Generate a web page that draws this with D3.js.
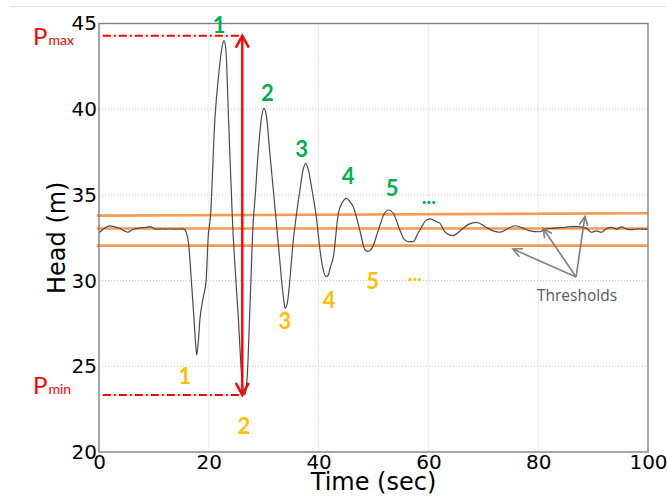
<!DOCTYPE html>
<html>
<head>
<meta charset="utf-8">
<script src="https://cdn.jsdelivr.net/npm/d3@7/dist/d3.min.js"></script>
<style>
  html, body { margin: 0; padding: 0; background: #fff; }
  svg { display: block; }
</style>
</head>
<body>
<svg id="chart" width="667" height="498"></svg>
<script>
// ---- data ----
const time = [0, 0.2, 1.0, 2.0, 3.0, 3.8, 4.6, 5.3, 6.0, 6.6, 7.5, 8.5, 9.3, 10.0, 10.5, 11.3, 12.0, 13.0, 13.9, 14.8, 15.5, 15.9, 16.3, 16.9, 17.3, 17.6, 17.8, 18.05, 18.4, 18.9, 19.3, 19.5, 19.9, 20.3, 21.1, 21.8, 22.4, 22.77, 23.1, 23.6, 24.3, 25.4, 26.0, 26.5, 26.8, 27.0, 27.5, 28.1, 28.4, 29.0, 29.6, 30.05, 30.5, 31.1, 31.75, 32.7, 33.6, 33.9, 34.3, 35.4, 36.6, 37.2, 37.65, 38.1, 38.7, 39.65, 40.25, 40.8, 41.35, 41.8, 42.08, 42.7, 43.6, 44.4, 45.1, 45.7, 46.3, 47.5, 48.45, 49.05, 49.7, 50.9, 51.8, 52.7, 53.6, 54.8, 55.6, 56.35, 57.25, 58.0, 58.8, 59.5, 60.3, 61.5, 62.1, 63.0, 64.5, 65.75, 67.3, 68.8, 70.3, 71.8, 73.0, 74.3, 75.8, 77.0, 78.5, 80.3, 81.2, 82.5, 83.5, 84.6, 85.8, 87.3, 88.8, 89.7, 90.6, 91.5, 92.5, 93.4, 94.3, 95.2, 96.1, 97.3, 98.2, 99.1, 100];
const head = [32.80, 32.85, 33.05, 33.19, 33.12, 33.05, 32.90, 32.82, 32.95, 33.02, 33.08, 33.10, 33.15, 33.05, 33.00, 33.02, 33.00, 33.02, 33.00, 33.02, 33.00, 32.80, 32.2, 29.64, 27.8, 26.3, 25.66, 26.3, 27.8, 28.87, 29.5, 29.94, 32.6, 33.73, 39.37, 42.0, 43.6, 44.0, 43.5, 39.4, 33.6, 27.7, 24.4, 23.33, 23.7, 24.4, 28.5, 33.5, 34.7, 37.5, 39.5, 40.05, 39.6, 37.5, 35.3, 32.0, 29.0, 28.38, 28.7, 32.37, 35.3, 36.5, 36.84, 36.5, 35.48, 33.54, 31.8, 30.7, 30.23, 30.35, 30.72, 31.4, 33.93, 34.6, 34.8, 34.6, 34.31, 32.95, 31.8, 31.7, 31.88, 32.95, 33.8, 34.12, 33.93, 32.95, 32.4, 32.27, 32.27, 32.7, 33.15, 33.5, 33.6, 33.44, 33.34, 32.85, 32.62, 32.9, 33.28, 33.4, 33.15, 32.9, 32.82, 33.0, 33.2, 33.09, 32.9, 32.85, 33.0, 33.05, 33.08, 33.09, 33.15, 33.15, 33.05, 32.82, 32.9, 32.82, 33.05, 33.1, 33.0, 33.13, 33.0, 32.97, 33.02, 33.0, 33.0];

const thresholdStart = [33.79, 33.04, 32.04];
const thresholdEnd   = [33.93, 33.04, 32.04];

const xTicks = [0, 20, 40, 60, 80, 100];
const yTicks = [20, 25, 30, 35, 40, 45];

const pMax = 44.29, pMin = 23.33, tExtreme = 26.1, tDashStart = 0.7;

const peakLabels = ["1", "2", "3", "4", "5"];
const peakLabelT = [21.86, 30.66, 36.92, 45.4, 53.4];
const peakLabelV = [44.91, 40.95, 37.68, 36.10, 35.40];
const troughLabels = ["1", "2", "3", "4", "5"];
const troughLabelT = [15.66, 26.41, 33.88, 41.9, 49.85];
const troughLabelV = [24.43, 21.52, 27.64, 28.87, 30.0];
const ellipsisPeak = {t: 60.1, v: 34.60};
const ellipsisTrough = {t: 57.55, v: 30.12};

const thresholdText = "Thresholds";
const thresholdTextPos = {t: 87.07, v: 28.81};
const thresholdArrowFrom = {t: 86.9, v: 30.21};
const thresholdArrowTo = [{t: 75.4, v: 31.84}, {t: 80.9, v: 33.04}, {t: 88.5, v: 33.74}];

// ---- layout ----
const svg = d3.select("#chart");
const x = d3.scaleLinear().domain([0, 100]).range([99, 648]);
const y = d3.scaleLinear().domain([20, 45]).range([452, 23.5]);

// faint top rule
svg.append("line").attr("x1", 10).attr("x2", 667).attr("y1", 6.5).attr("y2", 6.5)
  .attr("stroke", "#e6e6e6").attr("stroke-width", 1.2);

// grid
const grid = svg.append("g");
grid.selectAll(".gx").data(xTicks.slice(1, -1)).enter().append("line")
  .attr("x1", d => x(d)).attr("x2", d => x(d)).attr("y1", y(45)).attr("y2", y(20))
  .attr("stroke", "#c8c8c8").attr("stroke-width", 1).attr("stroke-dasharray", "1,2");
grid.selectAll(".gy").data(yTicks.slice(1, -1)).enter().append("line")
  .attr("x1", x(0)).attr("x2", x(100)).attr("y1", d => y(d)).attr("y2", d => y(d))
  .attr("stroke", "#c8c8c8").attr("stroke-width", 1).attr("stroke-dasharray", "1,2");

// thresholds
svg.append("g").selectAll("line").data(thresholdStart).enter().append("line")
  .attr("x1", x(-0.4)).attr("x2", x(100))
  .attr("y1", d => y(d)).attr("y2", (d, i) => y(thresholdEnd[i]))
  .attr("stroke", "#f79a52").attr("stroke-width", 2.6);

// series
const pts = time.map((t, i) => [t, head[i]]);
svg.append("path").datum(pts)
  .attr("d", d3.line().x(d => x(d[0])).y(d => y(d[1])).curve(d3.curveMonotoneX))
  .attr("fill", "none").attr("stroke", "#4a4a4a").attr("stroke-width", 1.2);

// frame
svg.append("rect").attr("x", x(0)).attr("y", y(45))
  .attr("width", x(100) - x(0)).attr("height", y(20) - y(45))
  .attr("fill", "none").attr("stroke", "#808080").attr("stroke-width", 1.4);

// axes
const xAxis = svg.append("g").attr("transform", `translate(0,${y(20)})`)
  .call(d3.axisBottom(x).tickValues(xTicks).tickSize(0).tickPadding(3).tickFormat(d3.format("d")));
const yAxis = svg.append("g").attr("transform", `translate(${x(0)},0)`)
  .call(d3.axisLeft(y).tickValues(yTicks).tickSize(0).tickPadding(2).tickFormat(d3.format("d")));
[xAxis, yAxis].forEach(a => {
  a.select(".domain").remove();
  a.selectAll("text").attr("font-family", "DejaVu Sans").attr("font-size", 20).attr("fill", "#000");
});

// axis titles
svg.append("text").attr("x", (x(0) + x(100)) / 2).attr("y", 490)
  .attr("text-anchor", "middle").attr("font-family", "DejaVu Sans").attr("font-size", 24)
  .attr("fill", "#000").text("Time (sec)");
svg.append("text").attr("transform", `translate(65,${(y(20) + y(45)) / 2}) rotate(-90)`)
  .attr("text-anchor", "middle").attr("font-family", "DejaVu Sans").attr("font-size", 24)
  .attr("fill", "#000").text("Head (m)");

// red Pmax / Pmin
const red = "#ff0000";
[pMax, pMin].forEach(v => {
  svg.append("line").attr("x1", x(tDashStart)).attr("x2", x(tExtreme))
    .attr("y1", y(v)).attr("y2", y(v))
    .attr("stroke", red).attr("stroke-width", 2).attr("stroke-dasharray", "8,3,2,3");
});
svg.append("line").attr("x1", x(tExtreme)).attr("x2", x(tExtreme))
  .attr("y1", y(pMax) + 1).attr("y2", y(pMin) - 1)
  .attr("stroke", red).attr("stroke-width", 2.4);
const ax = x(tExtreme);
svg.append("path").attr("d", `M${ax - 6.5},${y(pMax) + 12} L${ax},${y(pMax)} L${ax + 6.5},${y(pMax) + 12}`)
  .attr("fill", "none").attr("stroke", red).attr("stroke-width", 2.4);
svg.append("path").attr("d", `M${ax - 6.5},${y(pMin) - 12} L${ax},${y(pMin)} L${ax + 6.5},${y(pMin) - 12}`)
  .attr("fill", "none").attr("stroke", red).attr("stroke-width", 2.4);

const pLab = (yy, sub) => {
  const t = svg.append("text").attr("x", 33).attr("y", yy)
    .attr("font-family", "Lato, 'Open Sans', sans-serif").attr("fill", red);
  t.append("tspan").attr("font-size", 24).text("P");
  t.append("tspan").attr("font-size", 14).attr("dx", 1).text(sub);
};
pLab(45, "max");
pLab(394, "min");

// peak / trough numbers
const numFont = "Lato, 'Open Sans', sans-serif";
svg.append("g").selectAll("text").data(peakLabels).enter().append("text")
  .attr("x", (d, i) => x(peakLabelT[i])).attr("y", (d, i) => y(peakLabelV[i]))
  .attr("dy", "0.36em").attr("text-anchor", "middle")
  .attr("font-family", numFont).attr("font-weight", "bold").attr("font-size", 22)
  .attr("fill", "#00b050").text(d => d);
svg.append("g").selectAll("text").data(troughLabels).enter().append("text")
  .attr("x", (d, i) => x(troughLabelT[i])).attr("y", (d, i) => y(troughLabelV[i]))
  .attr("dy", "0.36em").attr("text-anchor", "middle")
  .attr("font-family", numFont).attr("font-weight", "bold").attr("font-size", 22)
  .attr("fill", "#ffc000").text(d => d);
svg.append("text").attr("x", x(ellipsisPeak.t)).attr("y", y(ellipsisPeak.v) + 2)
  .attr("text-anchor", "middle").attr("font-family", numFont).attr("font-weight", "bold")
  .attr("font-size", 20).attr("fill", "#00b050").text("...");
svg.append("text").attr("x", x(ellipsisTrough.t)).attr("y", y(ellipsisTrough.v) + 2)
  .attr("text-anchor", "middle").attr("font-family", numFont).attr("font-weight", "bold")
  .attr("font-size", 20).attr("fill", "#ffc000").text("...");

// Thresholds annotation
const gray = "#7f7f7f";
const fx = x(thresholdArrowFrom.t), fy = y(thresholdArrowFrom.v);
thresholdArrowTo.forEach(p => {
  const tx = x(p.t), ty = y(p.v);
  svg.append("line").attr("x1", fx).attr("y1", fy).attr("x2", tx).attr("y2", ty)
    .attr("stroke", gray).attr("stroke-width", 1.6);
  const ang = Math.atan2(ty - fy, tx - fx);
  const L = 10, W = 0.45;
  const a1 = ang + Math.PI - W, a2 = ang + Math.PI + W;
  svg.append("path")
    .attr("d", `M${tx + L * Math.cos(a1)},${ty + L * Math.sin(a1)} L${tx},${ty} L${tx + L * Math.cos(a2)},${ty + L * Math.sin(a2)}`)
    .attr("fill", "none").attr("stroke", gray).attr("stroke-width", 1.6);
});
svg.append("text").attr("x", x(thresholdTextPos.t)).attr("y", y(thresholdTextPos.v))
  .attr("text-anchor", "middle").attr("font-family", "'Open Sans', sans-serif")
  .attr("font-size", 15.5).attr("fill", "#595959").text(thresholdText);
</script>
</body>
</html>
